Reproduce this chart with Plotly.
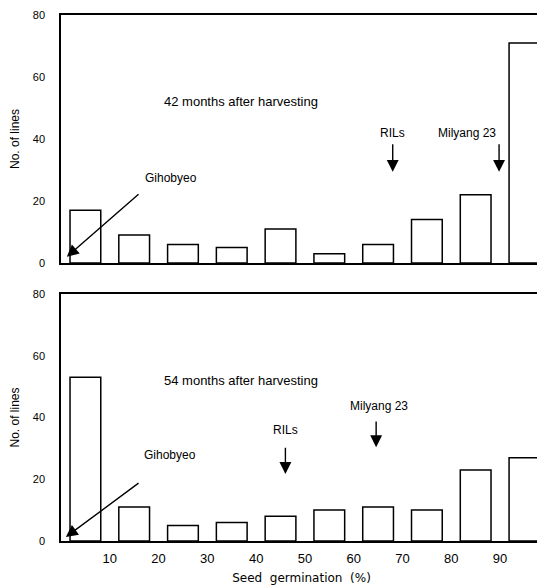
import plotly.graph_objects as go

bins = [5, 15, 25, 35, 45, 55, 65, 75, 85, 95]
tick_vals = [10, 20, 30, 40, 50, 60, 70, 80, 90]
tick_text = ["10", "20", "30", "40", "50", "60", "70", "80", "90"]
lines_42 = [17, 9, 6, 5, 11, 3, 6, 14, 22, 71]
lines_54 = [53, 11, 5, 6, 8, 10, 11, 10, 23, 27]
y_ticks = [0, 20, 40, 60, 80]

FONT = "Liberation Sans, Arial, sans-serif"

fig = go.Figure()
bar_style = dict(marker=dict(color="white", line=dict(color="black", width=1.5)),
                 width=6.3, showlegend=False)
fig.add_trace(go.Bar(x=bins, y=lines_42, xaxis="x", yaxis="y", **bar_style))
fig.add_trace(go.Bar(x=bins, y=lines_54, xaxis="x2", yaxis="y2", **bar_style))

xcommon = dict(range=[0, 98.6], showgrid=False, zeroline=False, showline=True,
               linecolor="black", linewidth=1.5, mirror=True, automargin=False,
               tickvals=tick_vals, ticktext=tick_text,
               tickfont=dict(family=FONT, size=13, color="black"))
ycommon = dict(range=[0, 80], showgrid=False, zeroline=False, showline=True,
               linecolor="black", linewidth=1.5, mirror=False, automargin=False,
               tickvals=y_ticks, ticklabelstandoff=12,
               tickfont=dict(family=FONT, size=11, color="black"),
               title=dict(text="No. of lines", standoff=14,
                          font=dict(family=FONT, size=12, color="black")))

# page body has an 8px margin, so the figure is sized to fit the window
fig.update_layout(
    width=537, height=577,
    margin=dict(l=53, r=3, t=7, b=44),
    plot_bgcolor="white", paper_bgcolor="white",
    xaxis=dict(domain=[0, 1], anchor="y", showticklabels=False, **xcommon),
    yaxis=dict(domain=[0.5285, 1], anchor="x", **ycommon),
    xaxis2=dict(domain=[0, 1], anchor="y2", ticks="", ticklen=0, ticklabelstandoff=5,
                title=dict(text="Seed  germination  (%)", standoff=8,
                           font=dict(family="DejaVu Sans, sans-serif", size=12, color="black")),
                **xcommon),
    yaxis2=dict(domain=[0, 0.4696], anchor="x2", **ycommon),
)

def text(x, y, s, xr, yr, size=12):
    fig.add_annotation(x=x, y=y, xref=xr, yref=yr, text=s, showarrow=False,
                       font=dict(family=FONT, size=size, color="black"))

def arrow(x, y, ax, ay, xr, yr):
    fig.add_annotation(x=x, y=y, ax=ax, ay=ay, xref=xr, yref=yr, axref=xr, ayref=yr,
                       text="", showarrow=True, arrowhead=2, arrowsize=1.7,
                       arrowwidth=1.4, arrowcolor="black")

# top panel
text(36.8, 52, "42 months after harvesting", "x", "y", 13)
text(68, 42, "RILs", "x", "y", 12)
arrow(68, 29.4, 68, 38.8, "x", "y")
text(83.2, 42, "Milyang 23", "x", "y", 12)
arrow(89.8, 29.4, 89.8, 38.8, "x", "y")
text(22.5, 27.5, "Gihobyeo", "x", "y", 12)
arrow(1.2, 2, 16.2, 22.6, "x", "y")

# bottom panel
text(36.8, 52, "54 months after harvesting", "x2", "y2", 13)
text(46, 36, "RILs", "x2", "y2", 12)
arrow(46, 21.7, 46, 30.7, "x2", "y2")
text(65.2, 43.7, "Milyang 23", "x2", "y2", 12)
arrow(64.6, 30.4, 64.6, 39.2, "x2", "y2")
text(22.3, 27.8, "Gihobyeo", "x2", "y2", 12)
arrow(1.0, 1.3, 16.2, 19.1, "x2", "y2")

fig.write_html("out.html")
